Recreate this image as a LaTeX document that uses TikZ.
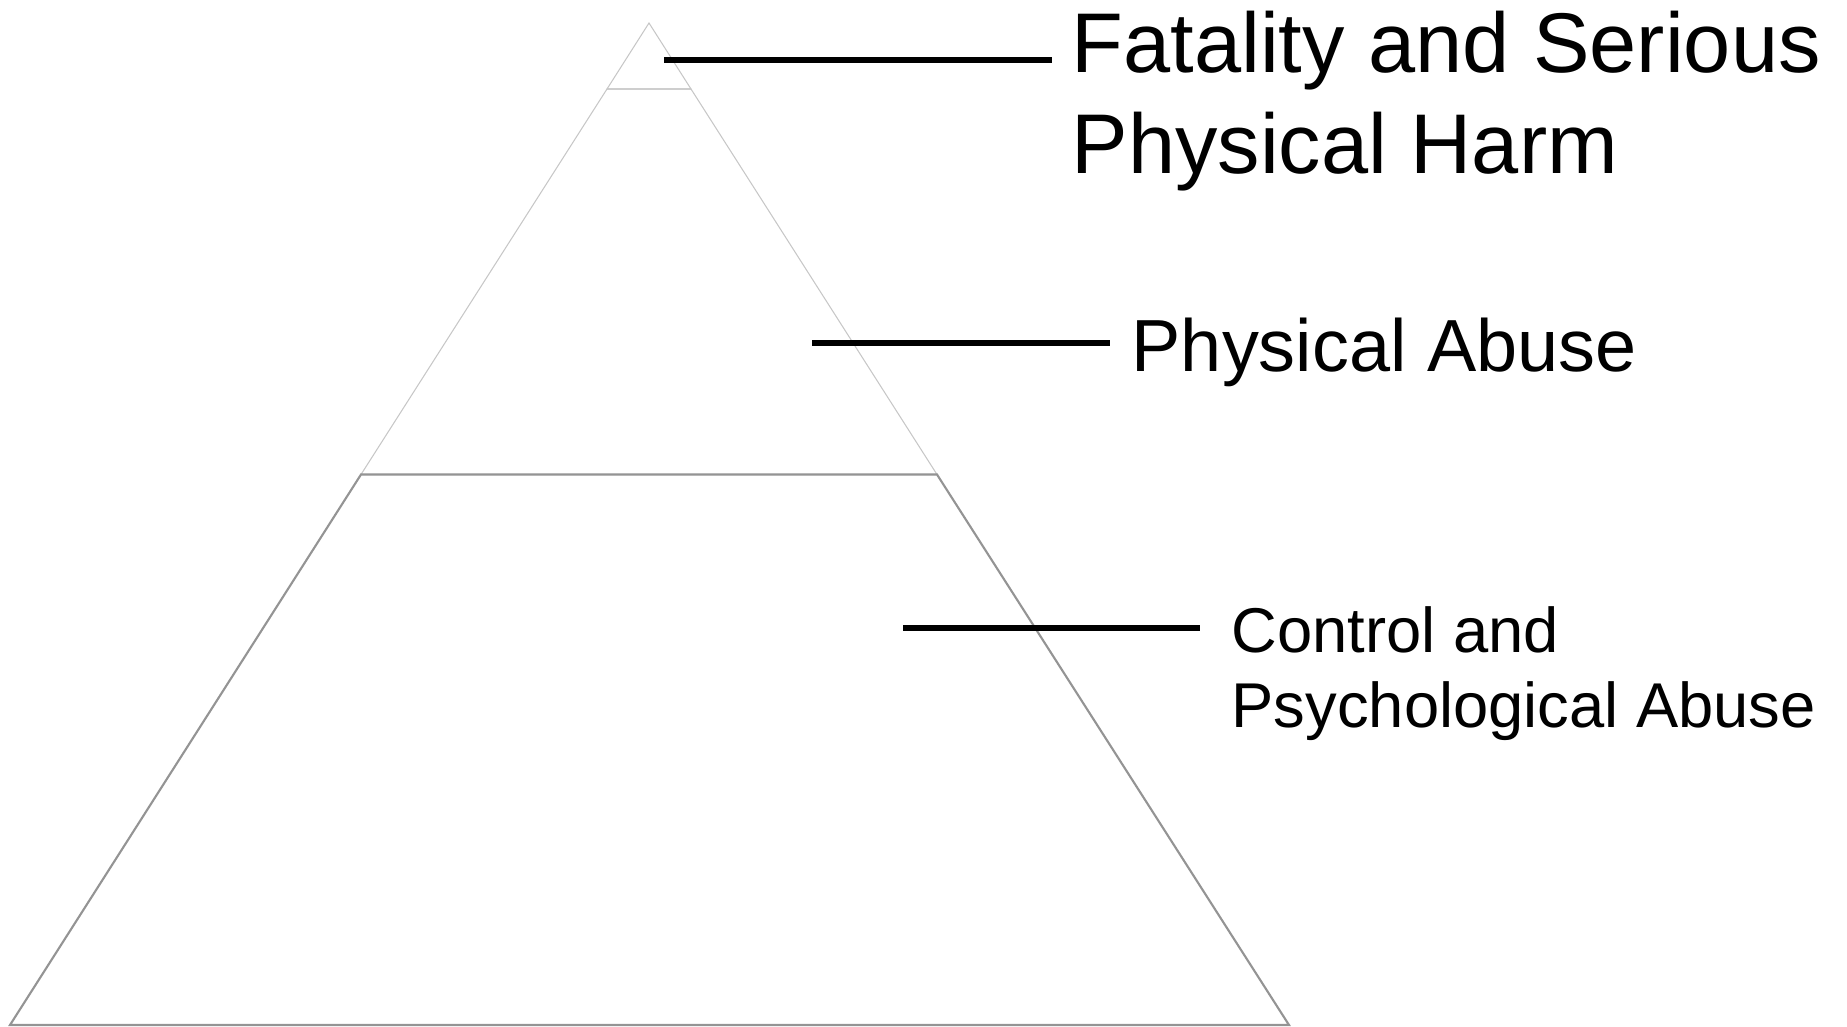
\documentclass[tikz,border=0pt]{standalone}
\usepackage{fontspec}
\setmainfont{Liberation Sans}
\usepackage{tikz}
\usetikzlibrary{calc}

\begin{document}
\begin{tikzpicture}[x=0.01cm,y=-0.01cm,
  tier/.style={draw=black!22,line width=0.3pt,line join=miter},
  base/.style={draw=black!42,line width=0.6pt,line join=miter},
  lbl/.style={anchor=base west,inner sep=0pt,align=left},
  lead/.style={line width=1.7pt,black}]
  \useasboundingbox (0,0) rectangle (1847,1027);
  % pyramid
  \coordinate (apex) at (649,23);
  \coordinate (bl) at (10,1025);
  \coordinate (br) at (1289,1025);
  \coordinate (ml) at (361,474.5);
  \coordinate (mr) at (937,474.5);
  \coordinate (tl) at (607,89);
  \coordinate (tr) at (691,89);
  \draw[tier] (apex) -- (tr) -- (tl) -- cycle;
  \draw[tier] (tl) -- (tr) -- (mr) -- (ml) -- cycle;
  \draw[base] (ml) -- (mr) -- (br) -- (bl) -- cycle;
  % labels (base = last line)
  \node[lbl,font=\fontsize{24.1}{28.7}\selectfont] (fatal) at (1071,173)
    {Fatality and Serious\\Physical Harm};
  \node[lbl,font=\fontsize{21}{25}\selectfont] (phys) at (1131,371)
    {Physical Abuse};
  \node[lbl,font=\fontsize{18}{21.3}\selectfont] (ctrl) at (1231,727)
    {Control and\\Psychological Abuse};
  % leader lines
  \coordinate (p1) at (664,60);
  \coordinate (p2) at (812,343);
  \coordinate (p3) at (903,628);
  \draw[lead] (p1) -- ($(p1 -| fatal.west)+(-19,0)$);
  \draw[lead] (p2) -- ($(p2 -| phys.west)+(-21,0)$);
  \draw[lead] (p3) -- ($(p3 -| ctrl.west)+(-31,0)$);
\end{tikzpicture}
\end{document}
